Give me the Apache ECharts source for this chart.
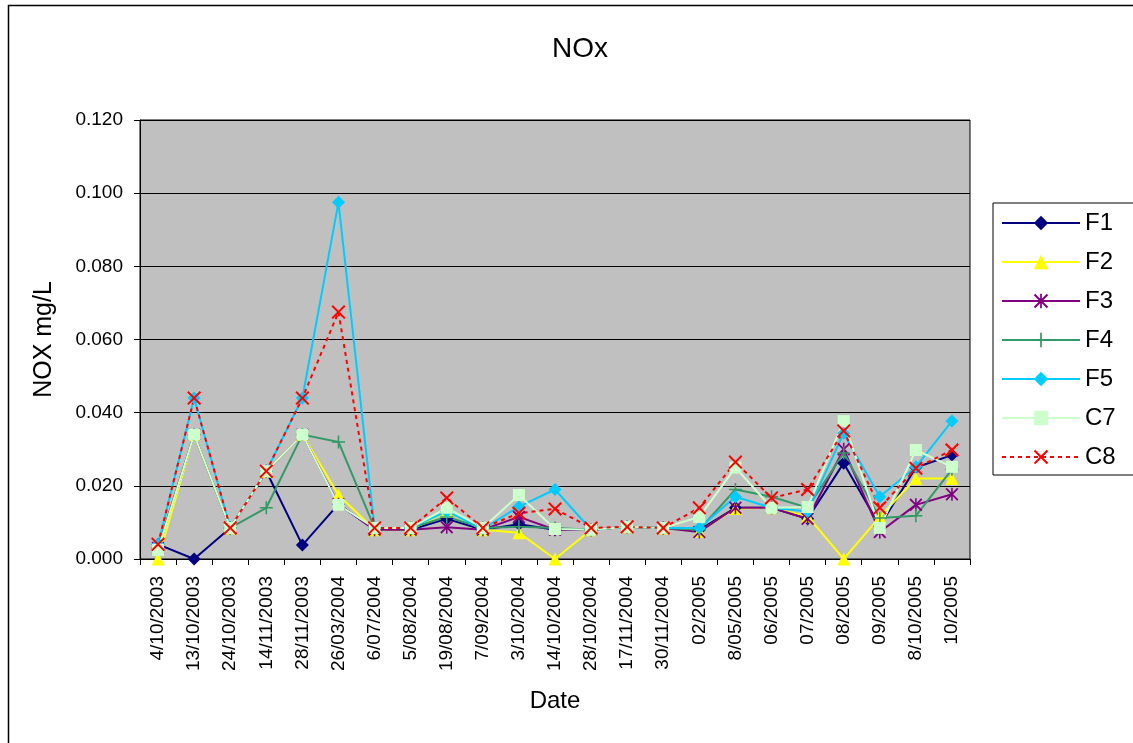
<!DOCTYPE html>
<html><head><meta charset="utf-8">
<script src="https://cdn.jsdelivr.net/npm/echarts@6/dist/echarts.min.js"></script>
<style>html,body{margin:0;padding:0;background:#fff;}#c{width:1133px;height:743px;}</style>
</head><body><div id="c"></div>
<script>
var categories = ['4/10/2003','13/10/2003','24/10/2003','14/11/2003','28/11/2003','26/03/2004','6/07/2004','5/08/2004','19/08/2004','7/09/2004','3/10/2004','14/10/2004','28/10/2004','17/11/2004','30/11/2004','02/2005','8/05/2005','06/2005','07/2005','08/2005','09/2005','8/10/2005','10/2005'];
var yTicks = [0, 0.02, 0.04, 0.06, 0.08, 0.10, 0.12];
var F1 = [0.004, 0, 0.0085, 0.024, 0.0038, 0.015, 0.008, 0.008, 0.011, 0.008, 0.0095, 0.008, 0.008, 0.0088, 0.0085, 0.008, 0.014, 0.014, 0.011, 0.0262, 0.009, 0.025, 0.0284];
var F2 = [0, 0.034, 0.0085, 0.024, 0.034, 0.0175, 0.008, 0.008, 0.013, 0.008, 0.0072, 0, 0.008, 0.0088, 0.0085, 0.0075, 0.0138, 0.014, 0.0117, 0, 0.0115, 0.022, 0.022];
var F3 = [0.003, 0.034, 0.0085, 0.024, 0.034, 0.015, 0.008, 0.008, 0.0087, 0.008, 0.0115, 0.008, 0.008, 0.0088, 0.0085, 0.0074, 0.014, 0.014, 0.011, 0.030, 0.0074, 0.0148, 0.0177];
var F4 = [0.003, 0.034, 0.0085, 0.014, 0.034, 0.032, 0.0085, 0.0085, 0.0115, 0.0085, 0.0088, 0.0085, 0.008, 0.0088, 0.0085, 0.008, 0.019, 0.017, 0.014, 0.029, 0.0112, 0.0118, 0.0245];
var F5 = [0.004, 0.044, 0.0085, 0.024, 0.044, 0.0975, 0.0085, 0.0085, 0.013, 0.0082, 0.0143, 0.019, 0.008, 0.0088, 0.0085, 0.0085, 0.017, 0.014, 0.013, 0.0344, 0.017, 0.0252, 0.0377];
var C7 = [0.0025, 0.034, 0.0085, 0.024, 0.034, 0.0148, 0.0085, 0.0085, 0.014, 0.0085, 0.0175, 0.0082, 0.008, 0.0088, 0.0085, 0.0115, 0.025, 0.014, 0.0142, 0.0377, 0.0085, 0.0298, 0.0252];
var C8 = [0.004, 0.044, 0.0085, 0.024, 0.044, 0.0675, 0.0085, 0.0085, 0.0167, 0.0085, 0.0125, 0.0137, 0.0085, 0.0088, 0.0085, 0.014, 0.0265, 0.0167, 0.019, 0.035, 0.014, 0.0248, 0.0298];

var FONT = 'Liberation Sans, Arial, sans-serif';
var xPath = 'path://M0,1 L1,0 L5,4 L9,0 L10,1 L6,5 L10,9 L9,10 L5,6 L1,10 L0,9 L4,5 Z';
var plusPath = 'path://M4.4,0 L5.6,0 L5.6,4.4 L10,4.4 L10,5.6 L5.6,5.6 L5.6,10 L4.4,10 L4.4,5.6 L0,5.6 L0,4.4 L4.4,4.4 Z';
var starPath = 'path://M0,1 L1,0 L4.4,3.4 L4.4,0 L5.6,0 L5.6,3.4 L9,0 L10,1 L6,5 L10,9 L9,10 L5.6,6.6 L5.6,10 L4.4,10 L4.4,6.6 L1,10 L0,9 L4,5 Z';

function mk(name, data, color, symbol, size, lineType) {
  return {
    name: name, type: 'line', data: data, symbol: symbol, symbolSize: size,
    showAllSymbol: true,
    lineStyle: { color: color, width: 2, type: lineType || 'solid' },
    itemStyle: { color: color },
    emphasis: { disabled: true },
    animation: false
  };
}

var chart = echarts.init(document.getElementById('c'));
chart.setOption({
  animation: false,
  backgroundColor: '#ffffff',
  title: { text: 'NOx', left: 547, top: 30, textStyle: { fontFamily: FONT, fontSize: 28, fontWeight: 'normal', color: '#000' } },
  graphic: [{ type: 'rect', shape: { x: 8.5, y: 5.5, width: 1140, height: 760 }, style: { fill: 'none', stroke: '#000', lineWidth: 1.5 }, silent: true }],
  legend: {
    orient: 'vertical', left: 993, top: 203,
    padding: [8, 60, 6, 8],
    backgroundColor: '#fff', borderColor: '#000', borderWidth: 1,
    itemWidth: 78, itemHeight: 18, itemGap: 15,
    textStyle: { fontFamily: FONT, fontSize: 24, color: '#000', lineHeight: 24 },
    data: ['F1','F2','F3','F4','F5','C7','C8']
  },
  grid: { left: 140, top: 120, right: 163, bottom: 184, show: true, backgroundColor: '#c0c0c0', borderColor: '#000', borderWidth: 1 },
  xAxis: {
    type: 'category', data: categories, boundaryGap: true,
    name: 'Date', nameLocation: 'middle', nameGap: 130,
    nameTextStyle: { fontFamily: FONT, fontSize: 24, color: '#000' },
    axisLine: { lineStyle: { color: '#000', width: 1 } },
    axisTick: { show: true, length: 6, lineStyle: { color: '#000' }, alignWithLabel: false },
    axisLabel: { rotate: 90, interval: 0, margin: 17, fontFamily: FONT, fontSize: 19, color: '#000' },
    splitLine: { show: false }
  },
  yAxis: {
    type: 'value', min: 0, max: 0.12, interval: 0.02,
    name: 'NOX mg/L', nameLocation: 'middle', nameGap: 83, nameRotate: 90,
    nameTextStyle: { fontFamily: FONT, fontSize: 25, color: '#000' },
    axisLine: { show: true, lineStyle: { color: '#000' } },
    axisTick: { show: true, length: 6, lineStyle: { color: '#000' } },
    axisLabel: { margin: 17, fontFamily: FONT, fontSize: 19, color: '#000', formatter: function (v) { return v.toFixed(3); } },
    splitLine: { show: true, lineStyle: { color: '#000', width: 1 } }
  },
  series: [
    mk('F1', F1, '#000080', 'diamond', 13),
    mk('F2', F2, '#ffff00', 'triangle', 13),
    mk('F3', F3, '#800080', starPath, 13),
    mk('F4', F4, '#339966', plusPath, 13),
    mk('F5', F5, '#00ccff', 'diamond', 13),
    mk('C7', C7, '#ccffcc', 'rect', 12),
    mk('C8', C8, '#ff0000', xPath, 14, [4, 4])
  ]
});
</script>
</body></html>
